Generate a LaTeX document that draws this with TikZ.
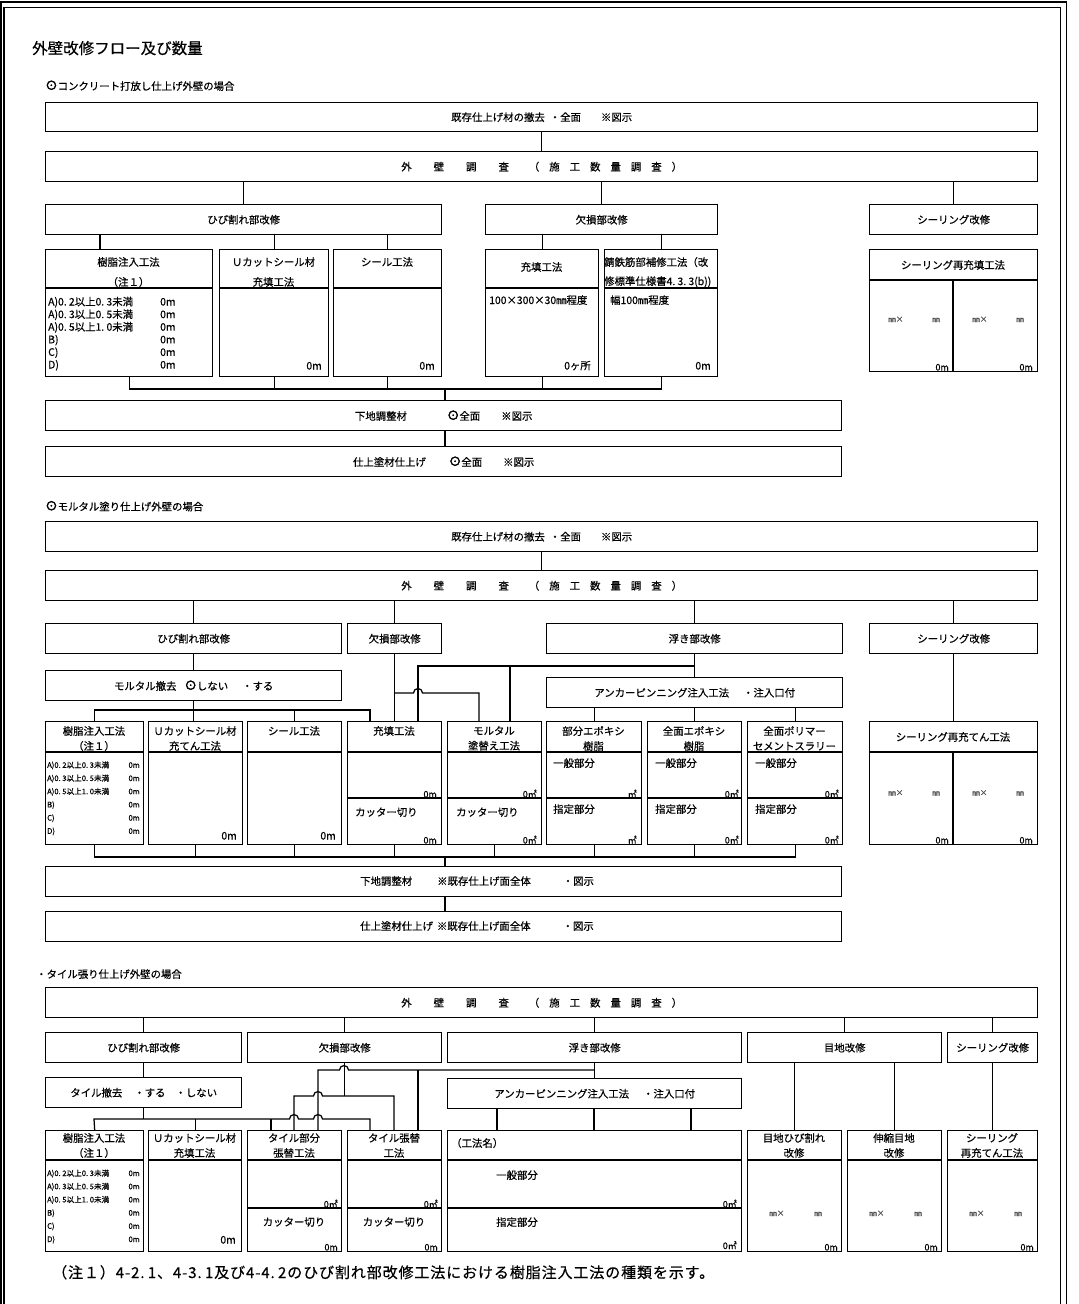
\documentclass[tikz,border=0pt]{standalone}
\usepackage{fontspec}
\setmainfont{Noto Sans CJK JP}[FakeBold=0.5]
\newfontfamily\marufont{Noto Sans CJK JP}[FakeBold=3]
\newfontfamily\notefont{Noto Sans CJK JP}[LetterSpace=6, FakeBold=0.5]
\usetikzlibrary{positioning,calc}
\newcommand{\lbl}{\fontsize{10.4}{12}\selectfont}
\newcommand{\hdone}{\fontsize{10.4}{20}\selectfont}
\newcommand{\hdtwo}{\fontsize{10.4}{15}\selectfont}
\newcommand{\tny}{\fontsize{7.6}{9}\selectfont}
\newcommand{\amt}{\fontsize{9}{10}\selectfont}
\newcommand{\ttl}{\fontsize{15.5}{18}\selectfont}
\newcommand{\notefnt}{\notefont\fontsize{15}{17}\selectfont}
\newcommand{\maru}{{\marufont\fontsize{12.5}{12}\selectfont ⊙}}
\newcommand{\dotg}{.\hspace{.22em}}
\newcommand{\survey}{外\hspace{22pt}壁\hspace{22pt}調\hspace{22pt}査\hspace{20pt}（\hspace{10pt}施\hspace{10pt}工\hspace{10pt}数\hspace{10pt}量\hspace{10pt}調\hspace{10pt}査\hspace{10pt}）}

\begin{document}
\begin{tikzpicture}[x=1pt, y=-1pt,
  box/.style={draw, line width=1.4pt, anchor=north west, inner sep=0pt, font=\lbl},
  sz/.style 2 args={minimum width=#1pt, minimum height=#2pt},
  ln/.style={line width=1.25pt},
  txt/.style={inner sep=0pt, font=\lbl, anchor=base west},
  hd/.style={inner sep=0pt, align=center, anchor=north},
  val/.style={inner sep=0pt, font=\lbl, anchor=base east},
  ul/.style={inner sep=0pt, font=\amt, anchor=base east},
  sm/.style={inner sep=0pt, font=\tny, anchor=base west},
  mm/.style={inner sep=0pt, font=\tny, text=black!70, anchor=base west}
]
  \useasboundingbox (0,0) rectangle (1079,1304);
  % outer frame
  \draw[line width=1.4pt] (0.8,1304) -- (0.8,1.8) -- (1066.5,1.8) -- (1066.5,1304);
  \draw[line width=1.4pt] (3.8,1304) -- (3.8,7.5) -- (1060.5,7.5) -- (1060.5,1304);

  \node[inner sep=0pt, anchor=base west, font=\ttl] (title) at (32,54) {外壁改修フロー及び数量};

  %% concrete finish
  \node[txt] (sub1) at (45,90) {\maru コンクリート打放し仕上げ外壁の場合};
  \node[box, sz={992}{29}] (top1) at (45,102) {既存仕上げ材の撤去\hspace{5pt}・全面\hspace{20pt}※図示};
  \node[box, sz={992}{30}] (survey1) at (45,151) {\survey};
  \node[box, sz={396}{30}] (crack1) at (45,204) {ひび割れ部改修};
  \node[box, sz={232}{30}] (defect1) at (485,204) {欠損部改修};
  \node[box, sz={168}{30}] (seal1) at (869,204) {シーリング改修};

  \foreach \nm/\xa/\w in {resin1/45/167, ucut1/219/109, sealm1/333/108, fill1/485/113, rust1/604/113}{
    \node[box, sz={\w}{127}] (\nm) at (\xa,249) {};
    \draw[ln] (\nm.west |- 0,288) -- (\nm.east |- 0,288);
  }
  \node[hd, font=\hdone] (resin1-h) at (128.5,257) {樹脂注入工法\\（注１）};
  \node[hd, font=\hdone] (ucut1-h) at (273.5,257) {Ｕカットシール材\\充填工法};
  \node[hd, font=\lbl] (sealm1-h) at (387,257) {シール工法};
  \node[inner sep=0pt, font=\lbl] (fill1-h) at (541.5,267) {充填工法};
  \node[hd, font=\fontsize{10.4}{19}\selectfont, align=left, anchor=north west] (rust1-h) at (604,257)
    {錆鉄筋部補修工法（改\\修標準仕様書4\dotg 3\dotg 3(b))};
  \foreach \t [count=\i from 0] in {A)0\dotg 2以上0\dotg 3未満, A)0\dotg 3以上0\dotg 5未満,
      A)0\dotg 5以上1\dotg 0未満, B), C), D)}{
    \node[txt] (r1-\i) at (48,{305.5+12.6*\i}) {\t};
    \node[txt] (r1v-\i) at (160,{305.5+12.6*\i}) {0m};
  }
  \node[val] (ucut1-v) at (322,369.5) {0m};
  \node[val] (sealm1-v) at (435,369.5) {0m};
  \node[txt] (fill1-b) at (489,304) {100×300×30㎜程度};
  \node[val] (fill1-v) at (591,369.5) {0ヶ所};
  \node[txt] (rust1-b) at (610,304) {幅100㎜程度};
  \node[val] (rust1-v) at (711,369.5) {0m};

  \node[box, sz={168}{122}] (reseal1) at (869,249) {};
  \draw[ln] (reseal1.west |- 0,280) -- (reseal1.east |- 0,280);
  \draw[ln] (953,280) -- (reseal1.south -| 953,0);
  \node[inner sep=0pt, font=\lbl] (reseal1-h) at (953,265) {シーリング再充填工法};
  \foreach \xa [count=\i] in {869,953}{
    \node[mm] (rs1m-\i) at ({\xa+19},322) {㎜×};
    \node[mm] (rs1n-\i) at ({\xa+63},322) {㎜};
    \node[ul] (rs1v-\i) at ({\xa+80},370.5) {0m};
  }

  \node[box, sz={796}{30}] (ground1) at (45,400) {下地調整材\hspace{40pt}\maru 全面\hspace{21pt}※図示};
  \node[box, sz={796}{30}] (finish1) at (45,446) {仕上塗材仕上げ\hspace{23pt}\maru 全面\hspace{21pt}※図示};

  \draw[ln] (top1) -- (survey1);
  \foreach \nm in {crack1,defect1,seal1} \draw[ln] (survey1.south -| \nm.north) -- (\nm.north);
  \draw[ln] (crack1.south -| 100,0) -- (resin1.north -| 100,0);
  \foreach \nm in {ucut1,sealm1} \draw[ln] (crack1.south -| \nm.north) -- (\nm.north);
  \foreach \nm in {fill1,rust1} \draw[ln] (defect1.south -| \nm.north) -- (\nm.north);
  \coordinate (bus1) at (445,389);
  \draw[ln] (resin1.south) |- (rust1.south |- bus1) -- (rust1.south);
  \foreach \nm in {ucut1,sealm1,fill1} \draw[ln] (\nm.south) -- (\nm.south |- bus1);
  \draw[ln] (bus1) -- (ground1.north -| bus1);
  \draw[ln] (ground1.south -| bus1) -- (finish1.north -| bus1);

  %% mortar finish
  \node[txt] (sub2) at (45,510.5) {\maru モルタル塗り仕上げ外壁の場合};
  \node[box, sz={992}{30}] (top2) at (45,521) {既存仕上げ材の撤去\hspace{5pt}・全面\hspace{20pt}※図示};
  \node[box, sz={992}{30}] (survey2) at (45,570) {\survey};
  \node[box, sz={296}{30}] (crack2) at (45,623) {ひび割れ部改修};
  \node[box, sz={94}{30}] (defect2) at (347,623) {欠損部改修};
  \node[box, sz={296}{30}] (float2) at (546,623) {浮き部改修};
  \node[box, sz={168}{30}] (seal2) at (869,623) {シーリング改修};
  \node[box, sz={296}{30}] (mortar2) at (45,670) {モルタル撤去\hspace{8pt}\maru しない\hspace{14pt}・する};
  \node[box, sz={296}{30}] (anchor2) at (546,677) {アンカーピンニング注入工法\hspace{14pt}・注入口付};

  \foreach \nm/\xa/\w/\hdr in {resin2/45/98/{樹脂注入工法\\（注１）}, ucut2/148/94/{Ｕカットシール材\\充てん工法},
      sealm2/247/94/{シール工法}, fill2/347/94/{充填工法}, repl2/447/94/{モルタル\\塗替え工法},
      epoP/546/95/{部分エポキシ\\樹脂}, epoF/647/94/{全面エポキシ\\樹脂}, poly/747/95/{全面ポリマー\\セメントスラリー}}{
    \node[box, sz={\w}{123}] (\nm) at (\xa,721) {};
    \draw[ln] (\nm.west |- 0,752) -- (\nm.east |- 0,752);
    \node[hd, font=\hdtwo] (\nm-h) at ({\xa+\w/2},726) {\hdr};
  }
  \foreach \nm in {fill2,repl2,epoP,epoF,poly} \draw[ln] (\nm.west |- 0,798) -- (\nm.east |- 0,798);
  \foreach \t [count=\i from 0] in {A)0\dotg 2以上0\dotg 3未満, A)0\dotg 3以上0\dotg 5未満,
      A)0\dotg 5以上1\dotg 0未満, B), C), D)}{
    \node[sm] (r2-\i) at (47,{767.8+13.2*\i}) {\t};
    \node[sm, anchor=base east] (r2v-\i) at (140,{767.8+13.2*\i}) {0m};
  }
  \node[val] (ucut2-v) at (237,839.5) {0m};
  \node[val] (sealm2-v) at (336,839.5) {0m};
  \node[ul] (fill2-v) at (437,797.5) {0m};
  \node[txt] (fill2-c) at (355,816) {カッター切り};
  \node[ul] (fill2-w) at (437,843.5) {0m};
  \node[ul] (repl2-v) at (537,797.5) {0㎡};
  \node[txt] (repl2-c) at (456,816) {カッター切り};
  \node[ul] (repl2-w) at (537,843.5) {0㎡};
  \foreach \nm/\xa/\q in {epoP/553/{}, epoF/655/0, poly/755/0}{
    \node[txt] (\nm-g) at (\xa,767) {一般部分};
    \node[ul] (\nm-v) at ({\xa+84},797.5) {\q㎡};
    \node[txt] (\nm-s) at (\xa,813) {指定部分};
    \node[ul] (\nm-w) at ({\xa+84},843.5) {\q㎡};
  }

  \node[box, sz={168}{123}] (reseal2) at (869,721) {};
  \draw[ln] (reseal2.west |- 0,752) -- (reseal2.east |- 0,752);
  \draw[ln] (953,752) -- (reseal2.south -| 953,0);
  \node[inner sep=0pt, font=\lbl] (reseal2-h) at (953,737) {シーリング再充てん工法};
  \foreach \xa [count=\i] in {869,953}{
    \node[mm] (rs2m-\i) at ({\xa+19},795.5) {㎜×};
    \node[mm] (rs2n-\i) at ({\xa+63},795.5) {㎜};
    \node[ul] (rs2v-\i) at ({\xa+80},843.5) {0m};
  }

  \node[box, sz={796}{30}] (ground2) at (45,866) {};
  \node[txt] (ground2-t) at (360,885) {下地調整材\hspace{25pt}※既存仕上げ面全体\hspace{32pt}・図示};
  \node[box, sz={796}{30}] (finish2) at (45,911) {};
  \node[txt] (finish2-t) at (360,930) {仕上塗材仕上げ\hspace{4pt}※既存仕上げ面全体\hspace{32pt}・図示};

  \draw[ln] (top2) -- (survey2);
  \foreach \nm in {crack2,defect2,float2,seal2} \draw[ln] (survey2.south -| \nm.north) -- (\nm.north);
  \draw[ln] (crack2) -- (mortar2);
  \coordinate (m2) at (370,710);
  \draw[ln] (resin2.north) |- (m2) -- (fill2.north -| m2);
  \draw[ln] (mortar2.south) -- (ucut2.north -| mortar2.south);
  \draw[ln] (sealm2.north) -- (sealm2.north |- m2);
  \draw[ln] (defect2.south) -- (fill2.north -| defect2.south);
  \coordinate (d2) at (394,693);
  \draw[ln] (d2) -- ++(19.5,0) arc[start angle=180, end angle=0, radius=4.5pt] -| (repl2.north -| 479,0);
  \draw[ln] (float2) -- (anchor2);
  \coordinate (f2) at (694,666);
  \draw[ln] (f2) -| (fill2.north -| 418,0);
  \draw[ln] (f2 -| 510,0) -- (repl2.north -| 510,0);
  \foreach \nm in {epoP,epoF,poly} \draw[ln] (anchor2.south -| \nm.north) -- (\nm.north);
  \draw[ln] (seal2) -- (reseal2);
  \coordinate (bus2) at (445,857);
  \draw[ln] (resin2.south) |- (poly.south |- bus2) -- (poly.south);
  \foreach \nm in {ucut2,sealm2,fill2,repl2,epoP,epoF} \draw[ln] (\nm.south) -- (\nm.south |- bus2);
  \draw[ln] (bus2) -- (ground2.north -| bus2);
  \draw[ln] (ground2.south -| bus2) -- (finish2.north -| bus2);

  %% tile finish
  \node[txt] (sub3) at (36,978) {・タイル張り仕上げ外壁の場合};
  \node[box, sz={992}{30}] (survey3) at (45,987) {\survey};
  \node[box, sz={196}{30}] (crack3) at (45,1032) {ひび割れ部改修};
  \node[box, sz={194}{30}] (defect3) at (247,1032) {欠損部改修};
  \node[box, sz={294}{30}] (float3) at (447,1032) {浮き部改修};
  \node[box, sz={194}{30}] (joint3) at (747,1032) {目地改修};
  \node[box, sz={90}{30}] (seal3) at (947,1032) {シーリング改修};
  \node[box, sz={196}{30}] (tile3) at (45,1077) {タイル撤去\hspace{12pt}・する\hspace{10pt}・しない};
  \node[box, sz={294}{30}] (anchor3) at (447,1078) {アンカーピンニング注入工法\hspace{14pt}・注入口付};

  \foreach \nm/\xa/\w/\hdr in {resin3/45/98/{樹脂注入工法\\（注１）}, ucut3/148/93/{Ｕカットシール材\\充填工法},
      tileP/247/94/{タイル部分\\張替工法}, tileR/347/94/{タイル張替\\工法}, method3/447/294/{},
      jcrack/747/94/{目地ひび割れ\\改修}, jexp/847/94/{伸縮目地\\改修}, reseal3/947/90/{シーリング\\再充てん工法}}{
    \node[box, sz={\w}{121}] (\nm) at (\xa,1130) {};
    \draw[ln] (\nm.west |- 0,1160) -- (\nm.east |- 0,1160);
    \node[hd, font=\hdtwo] (\nm-h) at ({\xa+\w/2},1133) {\hdr};
  }
  \foreach \nm in {tileP,tileR,method3} \draw[ln] (\nm.west |- 0,1208) -- (\nm.east |- 0,1208);
  \foreach \t [count=\i from 0] in {A)0\dotg 2以上0\dotg 3未満, A)0\dotg 3以上0\dotg 5未満,
      A)0\dotg 5以上1\dotg 0未満, B), C), D)}{
    \node[sm] (r3-\i) at (47,{1176+13.2*\i}) {\t};
    \node[sm, anchor=base east] (r3v-\i) at (140,{1176+13.2*\i}) {0m};
  }
  \node[val] (ucut3-v) at (236,1243.5) {0m};
  \foreach \nm/\xa in {tileP/247, tileR/347}{
    \node[ul] (\nm-v) at ({\xa+91},1207.5) {0㎡};
    \node[inner sep=0pt, font=\lbl] (\nm-c) at ({\xa+47},1222) {カッター切り};
    \node[ul] (\nm-w) at ({\xa+91},1250.5) {0m};
  }
  \node[txt] (method3-h2) at (451,1147) {（工法名）};
  \node[txt] (method3-g) at (496,1179) {一般部分};
  \node[ul] (method3-v) at (737,1207.5) {0㎡};
  \node[txt] (method3-s) at (496,1226) {指定部分};
  \node[ul] (method3-w) at (737,1249) {0㎡};
  \foreach \nm/\xa/\w in {jcrack/747/94, jexp/847/94, reseal3/947/90}{
    \node[mm] (\nm-m) at ({\xa+22},1216) {㎜×};
    \node[mm] (\nm-n) at ({\xa+67},1216) {㎜};
    \node[ul] (\nm-v) at ({\xa+\w-3},1250.5) {0m};
  }

  \foreach \nm in {crack3,defect3,float3,joint3,seal3} \draw[ln] (survey3.south -| \nm.north) -- (\nm.north);
  \draw[ln] (crack3) -- (tile3);
  \coordinate (t3) at (94,1119);
  \draw[ln] (resin3.north) -- (t3) -- (289.5,1119) arc[start angle=180, end angle=0, radius=4.5pt]
    -- (313.5,1119) arc[start angle=180, end angle=0, radius=4.5pt] -| (tileR.north -| 370,0);
  \draw[ln] (tile3.south) -- (tile3.south |- t3);
  \draw[ln] (ucut3.north) -- (ucut3.north |- t3);
  \draw[ln] (tileP.north -| 271,0) -- (tileP.north |- t3 -| 271,0);
  \draw[ln] (defect3.south) -- (defect3.south |- 0,1096);
  \draw[ln] (tileP.north -| 294,0) |- (313.5,1096) arc[start angle=180, end angle=0, radius=4.5pt]
    -| (tileR.north -| 394,0);
  \draw[ln] (float3) -- (anchor3);
  \coordinate (f3) at (594,1070);
  \draw[ln] (f3) -- (348.5,1070) arc[start angle=0, end angle=180, radius=4.5pt] -| (tileP.north -| 318,0);
  \draw[ln] (f3 -| 418,0) -- (tileR.north -| 418,0);
  \foreach \x in {497,594,691} \draw[ln] (anchor3.south -| \x,0) -- (method3.north -| \x,0);
  \foreach \nm in {jcrack,jexp} \draw[ln] (joint3.south -| \nm.north) -- (\nm.north);
  \draw[ln] (seal3) -- (reseal3);

  % note
  \node[txt, font=\notefnt] (note) at (52,1278)
    {（注１）4-2\dotg 1、4-3\dotg 1及び4-4\dotg 2のひび割れ部改修工法における樹脂注入工法の種類を示す。};
\end{tikzpicture}
\end{document}
